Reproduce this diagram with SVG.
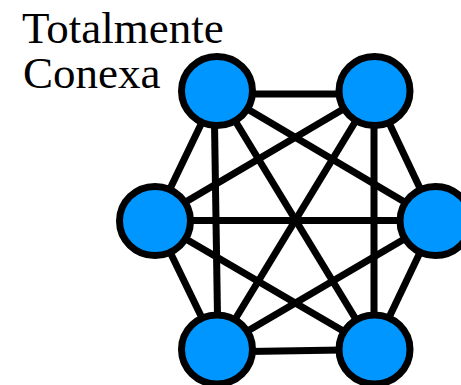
<svg xmlns="http://www.w3.org/2000/svg" width="461" height="385" viewBox="0 0 461 385">
<style>
.t{font-family:"Liberation Serif","Times New Roman",serif;font-size:45px;fill:#000}
.e line{stroke:#000;stroke-width:7;stroke-linecap:butt}
.n ellipse{fill:#0096ff;stroke:#000;stroke-width:7}
</style>
<rect width="461" height="385" fill="#fff"/>
<g id="label">
<text class="t" x="22" y="42.5">Totalmente</text>
<text class="t" x="23" y="88">Conexa</text>
</g>
<g id="edges" class="e">
<line x1="217" y1="94" x2="374" y2="94"/>
<line x1="217" y1="352" x2="374" y2="349.5"/>
<line x1="155" y1="220.5" x2="435" y2="220.5"/>
<line x1="217" y1="91" x2="155" y2="220"/>
<line x1="374" y1="91" x2="435" y2="220"/>
<line x1="155" y1="221" x2="217" y2="349"/>
<line x1="435" y1="221" x2="374" y2="349"/>
<line x1="214" y1="91" x2="218" y2="349"/>
<line x1="374" y1="91" x2="374" y2="349"/>
<line x1="217" y1="91" x2="374" y2="349"/>
<line x1="374" y1="91" x2="217" y2="349"/>
<line x1="217" y1="91" x2="435" y2="220"/>
<line x1="374" y1="91" x2="155" y2="220"/>
<line x1="155" y1="221" x2="374" y2="349"/>
<line x1="435" y1="221" x2="217" y2="349"/>
</g>
<g id="n1" class="n"><ellipse cx="217" cy="91" rx="35.5" ry="34.5"/></g>
<g id="n2" class="n"><ellipse cx="374.5" cy="91" rx="35.5" ry="34.5"/></g>
<g id="n3" class="n"><ellipse cx="155" cy="221" rx="35.5" ry="34.5"/></g>
<g id="n4" class="n"><ellipse cx="435.5" cy="221" rx="35.5" ry="34.5"/></g>
<g id="n5" class="n"><ellipse cx="217" cy="349.5" rx="35.5" ry="34.5"/></g>
<g id="n6" class="n"><ellipse cx="374.5" cy="349.5" rx="35.5" ry="34.5"/></g>
</svg>
